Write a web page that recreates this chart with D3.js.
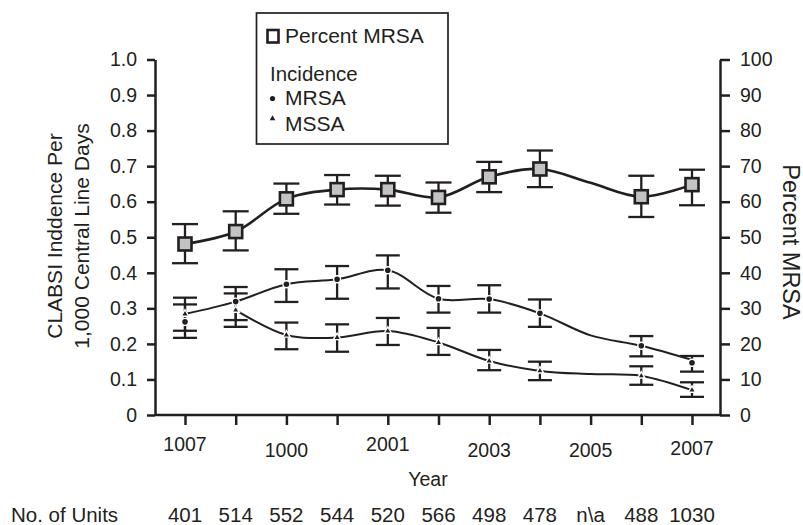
<!DOCTYPE html>
<html>
<head>
<meta charset="utf-8">
<script src="https://cdn.jsdelivr.net/npm/d3@7/dist/d3.min.js"></script>
<style>
  html, body { margin: 0; padding: 0; background: #fff; }
  svg { display: block; font-family: "Liberation Sans", Arial, Helvetica, sans-serif; }
</style>
</head>
<body>
<svg id="chart" width="803" height="525"></svg>
<script>
// ---- data ----
const years = [1997, 1998, 1999, 2000, 2001, 2002, 2003, 2004, 2005, 2006, 2007];
const yearLabels = ["1007", "", "1000", "", "2001", "", "2003", "", "2005", "", "2007"];
const units = ["401", "514", "552", "544", "520", "566", "498", "478", "n\\a", "488", "1030"];

// Percent of S. aureus CLABSI that were MRSA (right axis)
const pctMRSA     = [48.1, 51.6, 60.8, 63.4, 63.4, 61.2, 67.0, 69.2, null, 61.4, 64.8];
const pctMRSALow  = [42.7, 46.3, 56.6, 59.2, 58.9, 56.9, 62.7, 64.1, null, 55.7, 59.0];
const pctMRSAHigh = [53.7, 57.3, 65.1, 67.5, 67.3, 65.4, 71.2, 74.4, null, 67.3, 69.0];
const pctMRSATrend = [48.1, 51.6, 60.8, 63.4, 63.4, 61.2, 67.0, 69.2, 65.3, 61.4, 64.8];

// Incidence per 1,000 central line days (left axis)
const mrsaInc     = [0.262, 0.319, 0.368, 0.382, 0.407, 0.327, 0.326, 0.286, null, 0.195, 0.147];
const mrsaIncLow  = [0.217, 0.267, 0.318, 0.327, 0.356, 0.288, 0.288, 0.248, null, 0.165, 0.122];
const mrsaIncHigh = [0.311, 0.360, 0.410, 0.419, 0.449, 0.363, 0.365, 0.325, null, 0.222, 0.166];
const mrsaTrend   = [0.284, 0.319, 0.368, 0.382, 0.407, 0.327, 0.326, 0.286, 0.224, 0.195, 0.155];

const mssaInc     = [0.284, 0.295, 0.225, 0.218, 0.236, 0.204, 0.152, 0.124, null, 0.110, 0.070];
const mssaIncLow  = [0.237, 0.248, 0.185, 0.178, 0.197, 0.169, 0.126, 0.098, null, 0.085, 0.051];
const mssaIncHigh = [0.330, 0.342, 0.260, 0.255, 0.273, 0.245, 0.183, 0.150, null, 0.137, 0.092];
const mssaTrend   = [null, 0.295, 0.225, 0.218, 0.236, 0.204, 0.152, 0.124, 0.115, 0.110, 0.070];

const incTicks = [0, 0.1, 0.2, 0.3, 0.4, 0.5, 0.6, 0.7, 0.8, 0.9, 1.0];
const pctTicks = [0, 10, 20, 30, 40, 50, 60, 70, 80, 90, 100];

// ---- layout ----
const INK = "#231f20";
const plotLeft = 155, plotRight = 720, plotTop = 59.5, plotBottom = 415;
const svg = d3.select("#chart");

const x = d3.scalePoint().domain(years).range([185, 692]);
const yInc = d3.scaleLinear().domain([0, 1]).range([plotBottom, plotTop]);
const yPct = d3.scaleLinear().domain([0, 100]).range([plotBottom, plotTop]);

function styleAxis(g, size) {
  g.attr("font-family", null).attr("font-size", null);
  g.selectAll("path.domain").attr("stroke", INK).attr("stroke-width", 2.5);
  g.selectAll(".tick line").attr("stroke", INK).attr("stroke-width", 2.5);
  g.selectAll(".tick text").attr("fill", INK).style("font-size", size + "px");
}

// left axis
const gL = svg.append("g").attr("transform", `translate(${plotLeft},0)`)
  .call(d3.axisLeft(yInc).tickValues(incTicks).tickSize(8).tickSizeOuter(0).tickPadding(10)
    .tickFormat(d => d === 0 ? "0" : d3.format(".1f")(d)));
styleAxis(gL, 19.5);

// right axis
const gR = svg.append("g").attr("transform", `translate(${plotRight},0)`)
  .call(d3.axisRight(yPct).tickValues(pctTicks).tickSize(10).tickSizeOuter(0).tickPadding(10));
styleAxis(gR, 19.5);

// bottom axis line and ticks
svg.append("line").attr("x1", plotLeft).attr("x2", plotRight).attr("y1", plotBottom).attr("y2", plotBottom)
  .attr("stroke", INK).attr("stroke-width", 2.5);
const gX = svg.append("g").attr("transform", `translate(0,${plotBottom})`)
  .call(d3.axisBottom(x).tickSize(10).tickSizeOuter(0).tickFormat(""));
gX.select("path.domain").remove();
styleAxis(gX, 19.5);

// year labels, alternately staggered
const labelBase = [451, 457, 451, 457, 457, 455];
svg.append("g").selectAll("text")
  .data(years.map((y, i) => ({ y, t: yearLabels[i] })).filter(d => d.t))
  .join("text")
  .attr("x", d => x(d.y))
  .attr("y", (d, i) => labelBase[i])
  .attr("text-anchor", "middle")
  .attr("fill", INK).style("font-size", "19.5px")
  .text(d => d.t);

svg.append("text").attr("x", 428).attr("y", 486).attr("text-anchor", "middle")
  .attr("fill", INK).style("font-size", "19.5px").text("Year");

// units row
svg.append("text").attr("x", 11).attr("y", 522).attr("fill", INK)
  .style("font-size", "20.5px").text("No. of Units");
svg.append("g").selectAll("text").data(years).join("text")
  .attr("x", d => x(d)).attr("y", 522).attr("text-anchor", "middle")
  .attr("fill", INK).style("font-size", "20.5px")
  .text((d, i) => units[i]);

// axis titles
const tL = svg.append("text").attr("transform", "translate(0,236) rotate(-90)")
  .attr("text-anchor", "middle").attr("fill", INK).style("font-size", "21px");
tL.append("tspan").attr("x", 0).attr("y", 61.5).text("CLABSI Inddence Per");
tL.append("tspan").attr("x", 0).attr("y", 89).text("1,000 Central Line Days");

svg.append("text").attr("transform", "translate(783,242) rotate(90)")
  .attr("text-anchor", "middle").attr("fill", INK).style("font-size", "23.5px")
  .text("Percent MRSA");

// ---- series ----
const rows = years.map((yr, i) => ({
  yr,
  pct: pctMRSA[i], pctLo: pctMRSALow[i], pctHi: pctMRSAHigh[i], pctT: pctMRSATrend[i],
  mr: mrsaInc[i], mrLo: mrsaIncLow[i], mrHi: mrsaIncHigh[i], mrT: mrsaTrend[i],
  ms: mssaInc[i], msLo: mssaIncLow[i], msHi: mssaIncHigh[i], msT: mssaTrend[i]
}));

function errorBars(lo, hi, scale, half) {
  const g = svg.append("g").attr("stroke", INK).attr("stroke-width", 2.3).attr("fill", "none");
  rows.filter(d => d[lo] != null).forEach(d => {
    const cx = x(d.yr), y1 = scale(d[lo]), y2 = scale(d[hi]);
    g.append("line").attr("x1", cx).attr("x2", cx).attr("y1", y1).attr("y2", y2);
    g.append("line").attr("x1", cx - half).attr("x2", cx + half).attr("y1", y1).attr("y2", y1);
    g.append("line").attr("x1", cx - half).attr("x2", cx + half).attr("y1", y2).attr("y2", y2);
  });
}

function trend(key, scale, width) {
  const line = d3.line()
    .defined(d => d[key] != null)
    .x(d => x(d.yr)).y(d => scale(d[key]))
    .curve(d3.curveCatmullRom.alpha(0.5));
  svg.append("path").datum(rows).attr("d", line)
    .attr("fill", "none").attr("stroke", INK).attr("stroke-width", width)
    .attr("stroke-linejoin", "round");
}

errorBars("msLo", "msHi", yInc, 12);
errorBars("mrLo", "mrHi", yInc, 12);
errorBars("pctLo", "pctHi", yPct, 13);

trend("msT", yInc, 2);
trend("mrT", yInc, 2);
trend("pctT", yPct, 2.6);

// MSSA triangles
svg.append("g").selectAll("path").data(rows.filter(d => d.ms != null)).join("path")
  .attr("transform", d => `translate(${x(d.yr)},${yInc(d.ms)})`)
  .attr("d", d3.symbol(d3.symbolTriangle, 24)())
  .attr("fill", INK).attr("stroke", "#fff").attr("stroke-width", 1.4);

// MRSA circles
svg.append("g").selectAll("circle").data(rows.filter(d => d.mr != null)).join("circle")
  .attr("cx", d => x(d.yr)).attr("cy", d => yInc(d.mr)).attr("r", 3.5)
  .attr("fill", INK).attr("stroke", "#fff").attr("stroke-width", 1.4);

// Percent MRSA squares
svg.append("g").selectAll("rect").data(rows.filter(d => d.pct != null)).join("rect")
  .attr("x", d => x(d.yr) - 6.5).attr("y", d => yPct(d.pct) - 6.5)
  .attr("width", 13).attr("height", 13)
  .attr("fill", "#c2c3c5").attr("stroke", INK).attr("stroke-width", 2.6);

// ---- legend ----
const lg = svg.append("g");
lg.append("rect").attr("x", 256.5).attr("y", 13).attr("width", 191.5).attr("height", 131)
  .attr("fill", "#fff").attr("stroke", INK).attr("stroke-width", 1.7);
lg.append("rect").attr("x", 267.5).attr("y", 30).attr("width", 11).attr("height", 12.5)
  .attr("fill", "#fff").attr("stroke", INK).attr("stroke-width", 2.6);
lg.append("text").attr("x", 285).attr("y", 43).attr("fill", INK).style("font-size", "21px").text("Percent MRSA");
lg.append("text").attr("x", 270).attr("y", 81).attr("fill", INK).style("font-size", "20.5px").text("Incidence");
lg.append("circle").attr("cx", 272.5).attr("cy", 98.5).attr("r", 2.6).attr("fill", INK);
lg.append("text").attr("x", 285).attr("y", 104.5).attr("fill", INK).style("font-size", "21px").text("MRSA");
lg.append("path").attr("transform", "translate(272.5,118.5)")
  .attr("d", d3.symbol(d3.symbolTriangle, 14)()).attr("fill", INK);
lg.append("text").attr("x", 285).attr("y", 131).attr("fill", INK).style("font-size", "21px").text("MSSA");
</script>
</body>
</html>
